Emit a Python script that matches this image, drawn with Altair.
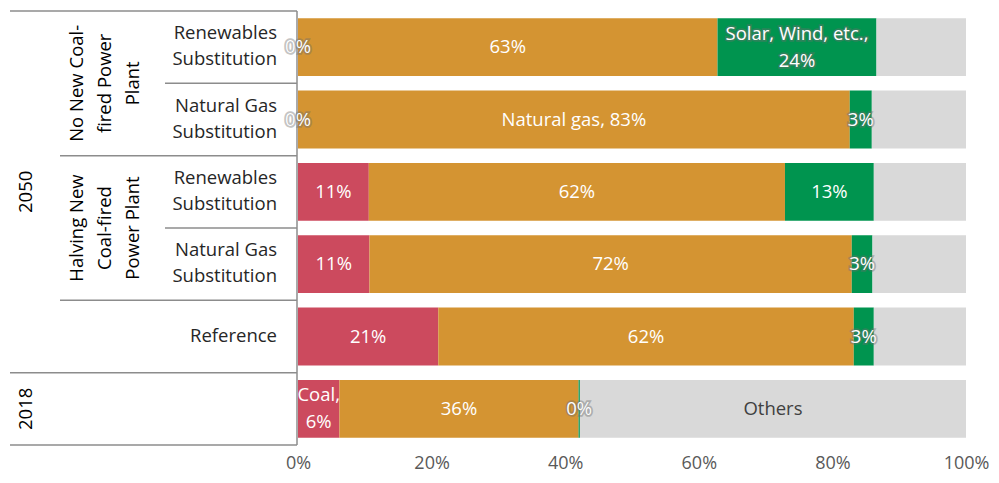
import altair as alt
import pandas as pd

# ---- data ----
rows = ["NN_R", "NN_G", "HV_R", "HV_G", "REF", "Y2018"]
row_labels = ["Renewables\nSubstitution", "Natural Gas\nSubstitution",
              "Renewables\nSubstitution", "Natural Gas\nSubstitution",
              "Reference", ""]
sources = ["Coal", "Natural gas", "Solar, Wind, etc.", "Others"]
colors = ["#CC4A5E", "#D49432", "#00944F", "#D9D9D9"]

coal = [0.0, 0.0, 10.6, 10.7, 21.0, 6.2]
gas = [62.8, 82.6, 62.3, 72.2, 62.2, 35.8]
renew = [23.8, 3.3, 13.3, 3.1, 3.0, 0.2]
others = [13.4, 14.1, 13.8, 14.0, 13.8, 57.8]

coal_text = ["0%", "0%", "11%", "11%", "21%", "Coal,\n6%"]
gas_text = ["63%", "Natural gas, 83%", "62%", "72%", "62%", "36%"]
renew_text = ["Solar, Wind, etc.,\n24%", "3%", "13%", "3%", "3%", "0%"]
others_text = ["", "", "", "", "", "Others"]

coal_halo = [1, 1, 0, 0, 0, 0]
gas_halo = [0, 0, 0, 0, 0, 0]
renew_halo = [1, 1, 0, 1, 1, 1]
others_halo = [0, 0, 0, 0, 0, 0]

group_labels = ["No New Coal-\nfired Power\nPlant", "Halving New\nCoal-fired\nPower Plant"]
year_labels = ["2050", "2018"]

# ---- build table ----
recs = []
series = [
    ("Coal", coal, coal_text, coal_halo, "white"),
    ("Natural gas", gas, gas_text, gas_halo, "white"),
    ("Solar, Wind, etc.", renew, renew_text, renew_halo, "white"),
    ("Others", others, others_text, others_halo, "#404040"),
]
for i, r in enumerate(rows):
    cum = 0.0
    for name, vals, texts, halos, tc in series:
        v = vals[i] / 100.0
        recs.append(dict(row=r, source=name, start=cum, end=cum + v,
                         mid=cum + v / 2, text=texts[i], halo=halos[i], tcolor=tc,
                         multi=int("\n" in texts[i])))
        cum += v
df = pd.DataFrame(recs)
df_text = df[df["text"] != ""]

FONT = "Open Sans"
FS = 18.5
TXT = "#262626"
LH_BAR = 27
H = 434

yband = alt.Y("row:N", sort=rows, axis=None,
              scale=alt.Scale(paddingInner=0.2, paddingOuter=0.1))

bars = alt.Chart(df).mark_bar().encode(
    x=alt.X("start:Q", scale=alt.Scale(domain=[0, 1], nice=False),
            axis=alt.Axis(format=".0%", values=[0, 0.2, 0.4, 0.6, 0.8, 1.0],
                          grid=False, domain=False, ticks=False, title=None,
                          labelFontSize=18, labelColor="#595959", labelFont=FONT,
                          labelPadding=9, labelFlush=False)),
    x2="end:Q",
    y=yband,
    color=alt.Color("source:N", scale=alt.Scale(domain=sources, range=colors), legend=None),
)

text_layers = []
for m in (0, 1):
    dy = -(LH_BAR / 2.0) * m
    sub_h = df_text[(df_text["halo"] == 1) & (df_text["multi"] == m)]
    sub_t = df_text[df_text["multi"] == m]
    if len(sub_h):
        text_layers.append(alt.Chart(sub_h).mark_text(
            lineBreak="\n", lineHeight=LH_BAR, fontSize=FS, font=FONT, dy=dy,
            fill="#6e6e6e", stroke="#6e6e6e", strokeWidth=3.5, strokeOpacity=0.5,
            opacity=0.8
        ).encode(x="mid:Q", y=yband, text="text:N"))
    text_layers.append(alt.Chart(sub_t).mark_text(
        lineBreak="\n", lineHeight=LH_BAR, fontSize=FS, font=FONT, dy=dy
    ).encode(x="mid:Q", y=yband, text="text:N",
             color=alt.Color("tcolor:N", scale=None)))

right = alt.layer(bars, *text_layers).properties(width=668, height=H)

# ---- left label panel ----
row_df = pd.DataFrame(dict(label=row_labels, yc=[i + 0.5 for i in range(len(rows))]))
row_df = row_df[row_df["label"] != ""]
row_df["multi"] = row_df["label"].str.contains("\n").astype(int)
grp_df = pd.DataFrame(dict(label=group_labels, yc=[1.0, 3.0]))
yr_df = pd.DataFrame(dict(label=year_labels, yc=[2.5, 5.5]))

xs = alt.Scale(domain=[0, 290], nice=False, zero=False)
ys = alt.Scale(domain=[0, 6], nice=False, zero=False, reverse=True)

LH_ROW = 26
row_layers = []
for m in (0, 1):
    row_layers.append(alt.Chart(row_df[row_df["multi"] == m]).mark_text(
        lineBreak="\n", lineHeight=LH_ROW, fontSize=FS, font=FONT, align="right",
        color=TXT, dy=-(LH_ROW / 2.0) * m - 1
    ).encode(x=alt.X("xp:Q", scale=xs, axis=None), y=alt.Y("yc:Q", scale=ys, axis=None),
             text="label:N").transform_calculate(xp="269"))

LH_GRP = 28
grp_txt = alt.Chart(grp_df).mark_text(
    lineBreak="\n", lineHeight=LH_GRP, fontSize=FS, font=FONT, angle=270, align="center",
    baseline="middle", color="#000000", dy=-LH_GRP
).encode(x=alt.X("xp:Q", scale=xs, axis=None), y=alt.Y("yc:Q", scale=ys, axis=None),
         text="label:N").transform_calculate(xp="97")

yr_txt = alt.Chart(yr_df).mark_text(
    fontSize=FS, font=FONT, angle=270, align="center", baseline="middle", color="#000000"
).encode(x=alt.X("xp:Q", scale=xs, axis=None), y=alt.Y("yc:Q", scale=ys, axis=None),
         text="label:N").transform_calculate(xp="18")

lines_df = pd.DataFrame(dict(
    x=[2, 157, 52, 157, 52, 2, 2, 289],
    x2=[289, 289, 289, 289, 289, 289, 289, 289],
    y=[0, 1, 2, 3, 4, 5, 6, 0],
    y2=[0, 1, 2, 3, 4, 5, 6, 6],
))
lines = alt.Chart(lines_df).mark_rule(color="#8c8c8c", strokeWidth=1.5).encode(
    x=alt.X("x:Q", scale=xs, axis=None), x2="x2:Q",
    y=alt.Y("y:Q", scale=ys, axis=None), y2="y2:Q")

left = alt.layer(lines, *row_layers, grp_txt, yr_txt).properties(width=290, height=H)

chart = alt.hconcat(left, right, spacing=0, bounds="flush").properties(
    padding={"left": 0, "top": 2, "right": 0, "bottom": 0}
).configure_view(stroke=None)

chart.save("out.html", embed_options={"renderer": "svg", "actions": False})
